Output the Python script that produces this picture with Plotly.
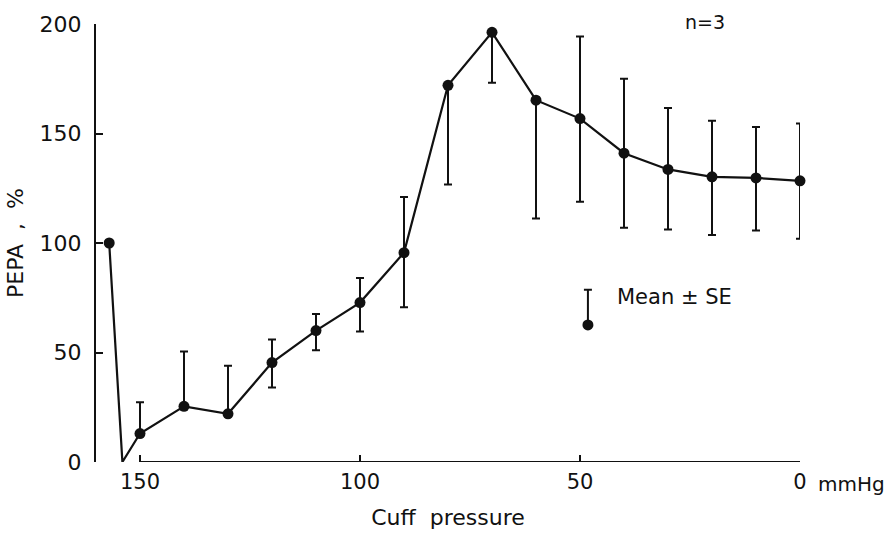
import plotly.graph_objects as go

# Cuff pressure steps (mmHg) and PEPA response (% of control), mean ± SE, n = 3
pressure = [150, 140, 130, 120, 110, 100, 90, 80, 70, 60, 50, 40, 30, 20, 10, 0]
pepa_mean = [13, 25.4, 22, 45.4, 60, 72.8, 95.6, 172, 196.2, 165.2, 156.8, 141, 133.6, 130.2, 129.7, 128.4]
se_plus = [14.3, 25, 22, 10.5, 7.6, 11.2, 25.4, 0, 0, 0, 37.5, 34, 28, 25.6, 23.3, 26.2]
se_minus = [0, 0, 0, 11.4, 9, 13.2, 24.9, 45.3, 23, 54, 38, 34, 27.4, 26.6, 24, 26.5]

# Control value before inflation and the immediate drop on cuff inflation
control_pressure = [157, 154]
control_pepa = [100, 0]

x_ticks = [150, 100, 50, 0]
y_ticks = [0, 50, 100, 150, 200]

# Position of the key symbol (data units)
key_x, key_y, key_se = 48.2, 62.6, 16

INK = "#111111"
FONT = "DejaVu Sans"

fig = go.Figure()

# connecting line through all points
fig.add_trace(go.Scatter(
    x=control_pressure + pressure,
    y=control_pepa + pepa_mean,
    mode="lines",
    line=dict(color=INK, width=2.2),
    hoverinfo="skip",
    showlegend=False,
))

# control point (no error bar)
fig.add_trace(go.Scatter(
    x=control_pressure[:1], y=control_pepa[:1],
    mode="markers",
    marker=dict(color=INK, size=11),
    showlegend=False,
))

# means with SE bars
fig.add_trace(go.Scatter(
    x=pressure, y=pepa_mean,
    mode="markers",
    marker=dict(color=INK, size=11),
    error_y=dict(type="data", symmetric=False, array=se_plus, arrayminus=se_minus,
                 color=INK, thickness=2, width=4),
    showlegend=False,
))

# key symbol
fig.add_trace(go.Scatter(
    x=[key_x], y=[key_y],
    mode="markers",
    marker=dict(color=INK, size=11),
    error_y=dict(type="data", symmetric=False, array=[key_se], arrayminus=[0],
                 color=INK, thickness=2, width=4),
    showlegend=False,
))

# x axis baseline spanning the labelled pressures only
fig.add_shape(type="line", xref="x", yref="y",
              x0=max(x_ticks), x1=min(x_ticks), y0=0, y1=0,
              line=dict(color=INK, width=2))

fig.add_annotation(x=key_x - 6.2, y=key_y + 12.6, xref="x", yref="y",
                   text="Mean ± SE", showarrow=False, xanchor="left", yanchor="middle",
                   font=dict(family=FONT, size=21, color=INK))
fig.add_annotation(x=1, y=1, xref="paper", yref="paper",
                   text="n=3", showarrow=False, xanchor="center", yanchor="middle",
                   xshift=-95, yshift=2, font=dict(family=FONT, size=19, color=INK))
fig.add_annotation(x=1, y=0, xref="paper", yref="paper",
                   text="mmHg", showarrow=False, xanchor="left", yanchor="middle",
                   xshift=16, yshift=-22, font=dict(family=FONT, size=20, color=INK))

fig.update_layout(
    width=890, height=537,
    margin=dict(l=96, r=90, t=20, b=73),
    paper_bgcolor="white", plot_bgcolor="white",
    font=dict(family=FONT, color=INK),
    xaxis=dict(
        range=[160, 0], tickvals=x_ticks, ticktext=[str(v) for v in x_ticks],
        showgrid=False, zeroline=False, showline=False,
        ticks="inside", ticklen=7, tickwidth=1.5, tickcolor=INK,
        ticklabelstandoff=5,
        tickfont=dict(family=FONT, size=21, color=INK),
        title=dict(text="Cuff  pressure", font=dict(family=FONT, size=22, color=INK), standoff=16),
    ),
    yaxis=dict(
        range=[0, 200], tickvals=y_ticks,
        showgrid=False, zeroline=False, showline=True, linecolor=INK, linewidth=2,
        ticks="inside", ticklen=7, tickwidth=1.5, tickcolor=INK,
        ticklabelstandoff=8,
        tickfont=dict(family=FONT, size=22, color=INK),
        title=dict(text="PEPA  ,  %", font=dict(family=FONT, size=22, color=INK), standoff=10),
    ),
)

for tr in fig.data:
    tr.cliponaxis = False

fig.write_html("out.html")
